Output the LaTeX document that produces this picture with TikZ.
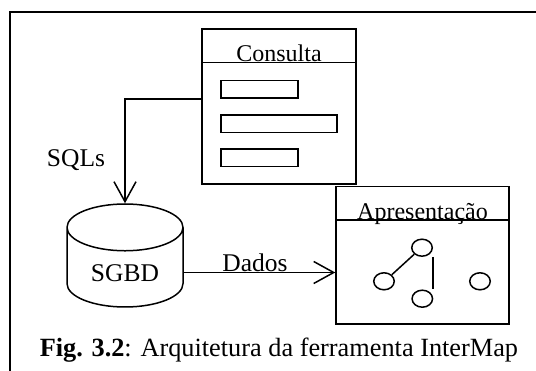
\documentclass[tikz,border=0pt]{standalone}
\usepackage{fontspec}
\setmainfont{Liberation Serif}
\usetikzlibrary{shapes.geometric,arrows.meta}
\tikzstyle{arrow} = [-{Straight Barb[length=20pt,width=22pt]}]
\tikzstyle{win} = [draw,rectangle,inner sep=0pt]
\tikzstyle{field} = [draw,rectangle,inner sep=0pt,minimum height=17.5pt]
\tikzstyle{dot} = [draw,ellipse,inner sep=0pt,minimum width=20.5pt,minimum height=17pt]
\tikzstyle{lbl} = [inner sep=0pt,anchor=base]
\tikzstyle{title} = [lbl,font=\fontsize{24}{28}\selectfont]

\begin{document}
\begin{tikzpicture}[x=1pt,y=-1pt,line width=1.5pt]
          \fontsize{25.5}{30}\selectfont
          \useasboundingbox (0,0) rectangle (536,371);
          % frame
          \draw[line width=2pt] (9.5,371) -- (9.5,11.7) -- (536,11.7);

          % query window
          \node[win, minimum width=154pt, minimum height=155pt] at (279,106.5) (cons) {};
          \draw ([yshift=-34.5pt]cons.north west) -- ([yshift=-34.5pt]cons.north east);
          \node[title] at (279,62) (constitle) {Consulta};
          \node[field, minimum width=77pt] at (259.5,89.5) (f1) {};
          \node[field, minimum width=116pt] at (279,124) (f2) {};
          \node[field, minimum width=77pt] at (259.5,158) (f3) {};

          % database
          \node[draw, cylinder, shape border rotate=90, aspect=0.55, minimum width=116pt,
                minimum height=103pt, anchor=shape center] at (125,255.5) (db) {SGBD};

          % presentation window
          \node[win, minimum width=173pt, minimum height=137.5pt] at (422.5,255.25) (pres) {};
          \draw ([yshift=-34.5pt]pres.north west) -- ([yshift=-34.5pt]pres.north east);
          \node[title] at (422.5,219.5) (prestitle) {Apresentação};
          \node[dot] at (422,247.7) (ct) {};
          \node[dot] at (384,281.3) (cl) {};
          \node[dot] at (422.3,298.7) (cb) {};
          \node[dot] at (480,281.3) (cr) {};
          \draw (cl.north east) -- (ct.south west);
          \draw (ct.south -| ct.east) -- (cb.north -| ct.east);

          % connectors
          \draw[arrow] (cons.west |- f1.south) -| (db.north);
          \node[lbl] at (76,167) (sqls) {SQLs};
          \coordinate (dl) at ([yshift=-17pt]db.shape center);
          \draw[arrow] (dl -| db.east) -- (dl -| pres.west);
          \node[lbl] at (255,272) (dados) {Dados};

          % caption
          \node[lbl, anchor=base west] at (39,357) (cap) {\fontsize{26.3}{30}\selectfont\textbf{Fig. 3.2}: Arquitetura da ferramenta InterMap};
        \end{tikzpicture}
\end{document}
